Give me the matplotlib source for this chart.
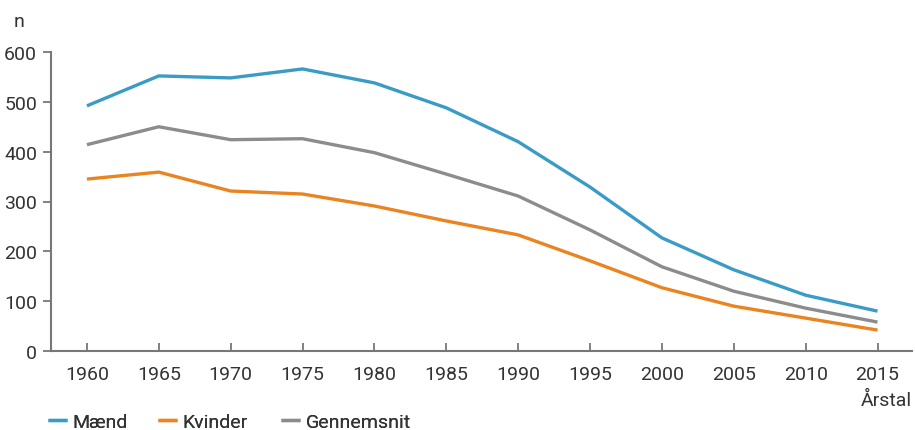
import matplotlib
matplotlib.use("Agg")
import matplotlib.pyplot as plt
from matplotlib import font_manager

years = [1960, 1965, 1970, 1975, 1980, 1985, 1990, 1995, 2000, 2005, 2010, 2015]
maend = [492, 552, 548, 566, 538, 488, 420, 329, 227, 163, 112, 80]
kvinder = [345, 359, 321, 315, 291, 261, 233, 181, 127, 90, 66, 42]
gennemsnit = [414, 450, 424, 426, 398, 355, 311, 243, 169, 120, 86, 58]
y_ticks = [0, 100, 200, 300, 400, 500, 600]

names = {f.name for f in font_manager.fontManager.ttflist}
family = "Liberation Sans Narrow" if "Liberation Sans Narrow" in names else "Roboto"
plt.rcParams["font.family"] = [family, "DejaVu Sans"]

text_col = "#333333"
axis_col = "#777777"

fig = plt.figure(figsize=(9.15, 4.31), dpi=100)
ax = fig.add_axes([51 / 915, 1 - 352 / 431, (912 - 51) / 915, (352 - 53) / 431])

l1, = ax.plot(years, maend, color="#3a9cc6", lw=2.4, label="Mænd", solid_capstyle="butt")
l2, = ax.plot(years, kvinder, color="#ea8420", lw=2.4, label="Kvinder", solid_capstyle="butt")
l3, = ax.plot(years, gennemsnit, color="#8c8c8c", lw=2.4, label="Gennemsnit", solid_capstyle="butt")

ax.set_xlim(1957.5, 2017.4)
ax.set_ylim(0, 600)
ax.set_xticks(years)
ax.set_yticks(y_ticks)

for s in ("top", "right"):
    ax.spines[s].set_visible(False)
for s in ("left", "bottom"):
    ax.spines[s].set_color(axis_col)
    ax.spines[s].set_linewidth(1.5)

ax.tick_params(axis="x", direction="in", length=6, width=1.3, color=axis_col,
               labelsize=14, labelcolor=text_col, pad=10)
ax.tick_params(axis="y", direction="out", length=6, width=1.3, color=axis_col,
               labelsize=14, labelcolor=text_col, pad=4)

fig.text(14 / 915, 1 - 22 / 431, "n", fontsize=14, color=text_col, va="center", ha="left")
fig.text(912 / 915, 1 - 401 / 431, "Årstal", fontsize=14, color=text_col, va="center", ha="right")

# one legend entry per series, spaced along the bottom edge
for line, x0 in ((l1, 30), (l2, 140), (l3, 263)):
    leg = fig.legend([line], [line.get_label()], loc="center left",
                     bbox_to_anchor=(x0 / 915, 1 - 423 / 431),
                     frameon=False, fontsize=14, handlelength=1.0, handletextpad=0.3,
                     labelcolor=text_col)
    fig.add_artist(leg)

fig.savefig("out.png", dpi=100, facecolor="white")
